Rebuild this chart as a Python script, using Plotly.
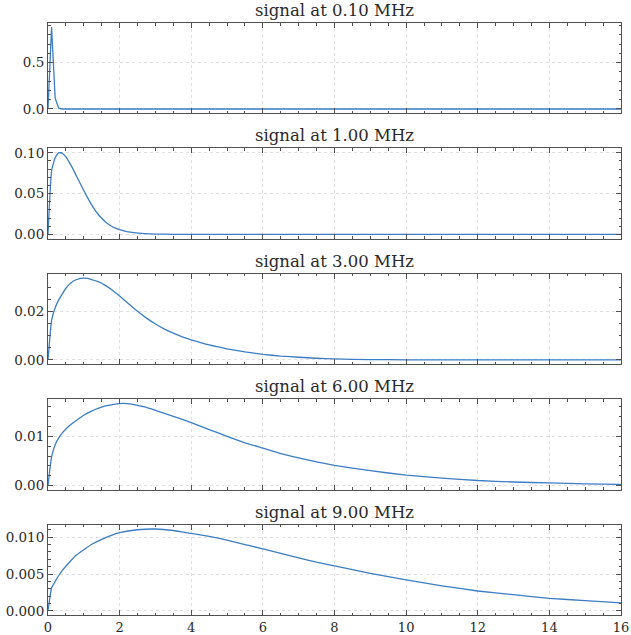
import plotly.graph_objects as go
from plotly.subplots import make_subplots

# ---- data ----
titles = ["signal at 0.10 MHz", "signal at 1.00 MHz", "signal at 3.00 MHz",
          "signal at 6.00 MHz", "signal at 9.00 MHz"]

x_010 = [0, 0.1, 0.2, 0.3, 0.4, 16]
y_010 = [0, 0.885, 0.115, 0.008, 0.0, 0.0]

x_100 = [0, 0.1, 0.2, 0.3, 0.4, 0.5, 0.6, 0.7, 0.8, 0.9, 1.0, 1.1, 1.2, 1.3, 1.4,
         1.5, 1.6, 1.7, 1.8, 1.9, 2.0, 2.2, 2.4, 2.7, 3.0, 3.5, 4.0, 5.0, 16]
y_100 = [0, 0.078, 0.094, 0.1003, 0.0995, 0.095, 0.088, 0.080, 0.071, 0.0625, 0.0538,
         0.0455, 0.0378, 0.0308, 0.0248, 0.0198, 0.0156, 0.0122, 0.0095, 0.0074,
         0.0058, 0.0036, 0.0022, 0.0011, 0.0005, 0.00015, 0.00004, 0.0, 0.0]

x_300 = [0, 0.1, 0.2, 0.3, 0.4, 0.5, 0.6, 0.7, 0.8, 0.9, 1.0, 1.1, 1.2, 1.4, 1.6,
         1.8, 2.0, 2.25, 2.5, 2.75, 3.0, 3.25, 3.5, 3.75, 4.0, 4.5, 5.0, 5.5, 6.0,
         6.5, 7.0, 7.5, 8.0, 9.0, 10.0, 12.0, 16.0]
y_300 = [0, 0.0163, 0.0215, 0.0247, 0.0272, 0.0295, 0.0312, 0.0324, 0.0331, 0.0336,
         0.0337, 0.0336, 0.0332, 0.0322, 0.0307, 0.0287, 0.0263, 0.0231, 0.0200,
         0.0172, 0.0148, 0.0127, 0.0110, 0.0095, 0.0083, 0.0062, 0.0046, 0.0033,
         0.0023, 0.0016, 0.0011, 0.0007, 0.0004, 0.00015, 0.00005, 0.0, 0.0]

x_600 = [0, 0.1, 0.2, 0.3, 0.4, 0.5, 0.6, 0.8, 1.0, 1.2, 1.4, 1.6, 1.8, 2.0, 2.2,
         2.4, 2.7, 3.0, 3.5, 4.0, 4.5, 5.0, 5.5, 6.0, 6.5, 7.0, 7.5, 8.0, 9.0, 10.0,
         11.0, 12.0, 13.0, 14.0, 15.0, 16.0]
y_600 = [0, 0.0058, 0.0083, 0.0097, 0.0107, 0.0115, 0.0122, 0.0133, 0.0143, 0.0151,
         0.0157, 0.0162, 0.0165, 0.0167, 0.0167, 0.0165, 0.0160, 0.0153, 0.0141,
         0.0128, 0.0114, 0.0100, 0.0087, 0.0076, 0.0065, 0.0056, 0.0048, 0.0041,
         0.0030, 0.0021, 0.0015, 0.0010, 0.0007, 0.0005, 0.0003, 0.0002]

x_900 = [0, 0.1, 0.2, 0.3, 0.4, 0.6, 0.8, 1.0, 1.25, 1.5, 1.75, 2.0, 2.5, 3.0, 3.5,
         4.0, 4.5, 5.0, 5.5, 6.0, 6.5, 7.0, 7.5, 8.0, 9.0, 10.0, 11.0, 12.0, 13.0,
         14.0, 15.0, 16.0]
y_900 = [0, 0.0031, 0.0040, 0.0048, 0.0055, 0.0066, 0.0076, 0.0083, 0.0091, 0.0097,
         0.0102, 0.0106, 0.0110, 0.0111, 0.0109, 0.0105, 0.0101, 0.0096, 0.0090,
         0.0084, 0.0078, 0.0072, 0.0066, 0.0061, 0.0051, 0.0042, 0.0034, 0.0027,
         0.0022, 0.0017, 0.0014, 0.0011]

xs = [x_010, x_100, x_300, x_600, x_900]
ys = [y_010, y_100, y_300, y_600, y_900]
y_dticks = [0.5, 0.05, 0.02, 0.01, 0.005]
y_minor = [0.1, 0.01, 0.005, 0.002, 0.001]
y_formats = [".1f", ".2f", ".2f", ".2f", ".3f"]
x_ticks = [0, 2, 4, 6, 8, 10, 12, 14, 16]

# ---- styling ----
LINE = "#3c7dc3"
FRAME = "#505050"
GRID = "#e0e0e0"
FONT = "DejaVu Serif"
TXT = "#2a2a2a"

fig = make_subplots(rows=5, cols=1, shared_xaxes=True, vertical_spacing=0.0598)

for i in range(5):
    fig.add_trace(
        go.Scatter(x=xs[i], y=ys[i], mode="lines",
                   line=dict(color=LINE, width=1.3,
                             shape="linear" if i == 0 else "spline",
                             smoothing=0.4),
                   showlegend=False, hoverinfo="skip"),
        row=i + 1, col=1)
    ymax = max(ys[i])
    ymin = min(ys[i])
    span = ymax - ymin
    fig.update_yaxes(
        row=i + 1, col=1,
        range=[ymin - 0.05 * span, ymax + 0.05 * span],
        dtick=y_dticks[i], tick0=0, tickformat=y_formats[i],
        ticks="inside", ticklen=5, tickwidth=1, tickcolor=FRAME,
        showline=True, linecolor=FRAME, linewidth=1, mirror="ticks",
        showgrid=True, gridcolor=GRID, griddash="dot", gridwidth=1,
        zeroline=False,
        minor=dict(dtick=y_minor[i], tick0=0, ticks="inside", ticklen=2.5,
                   tickcolor=FRAME, showgrid=False),
        tickfont=dict(family=FONT, size=13.5, color=TXT),
    )
    fig.update_xaxes(
        row=i + 1, col=1,
        range=[0, 16], tickvals=x_ticks,
        ticks="inside", ticklen=5, tickwidth=1, tickcolor=FRAME,
        showline=True, linecolor=FRAME, linewidth=1, mirror="ticks",
        showgrid=True, gridcolor=GRID, griddash="dot", gridwidth=1,
        zeroline=False, ticklabeloverflow="allow",
        minor=dict(dtick=0.5, tick0=0, ticks="inside", ticklen=2.5,
                   tickcolor=FRAME, showgrid=False),
        tickfont=dict(family=FONT, size=13, color=TXT),
    )
    xr = "x" if i == 0 else f"x{i + 1}"
    yr = "y" if i == 0 else f"y{i + 1}"
    fig.add_annotation(
        text=titles[i], xref=f"{xr} domain", yref=f"{yr} domain",
        x=0.5, y=1, xanchor="center", yanchor="bottom", yshift=1,
        showarrow=False, font=dict(family=FONT, size=16.5, color=TXT))

fig.update_layout(
    width=631, height=635,
    margin=dict(l=48, r=10, t=23, b=20, autoexpand=False),
    paper_bgcolor="white", plot_bgcolor="white",
)

fig.write_html("out.html")
